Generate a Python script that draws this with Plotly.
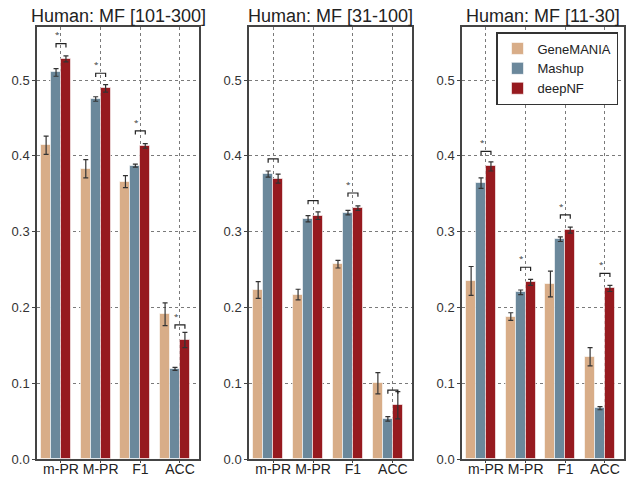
import plotly.graph_objects as go

metrics = ["m-PR", "M-PR", "F1", "ACC"]
methods = ["GeneMANIA", "Mashup", "deepNF"]
colors = ["#D8AD88", "#6B889B", "#961A1F"]
titles = ["Human: MF [101-300]", "Human: MF [31-100]", "Human: MF [11-30]"]

# panel 1: MF [101-300]
p1_means = {
    "GeneMANIA": [0.414, 0.383, 0.366, 0.191],
    "Mashup":    [0.510, 0.475, 0.387, 0.119],
    "deepNF":    [0.528, 0.489, 0.413, 0.157],
}
p1_errs = {
    "GeneMANIA": [0.012, 0.012, 0.008, 0.015],
    "Mashup":    [0.005, 0.003, 0.002, 0.002],
    "deepNF":    [0.004, 0.005, 0.003, 0.010],
}
p1_star = [True, True, True, True]

# panel 2: MF [31-100]
p2_means = {
    "GeneMANIA": [0.223, 0.217, 0.257, 0.100],
    "Mashup":    [0.376, 0.317, 0.325, 0.053],
    "deepNF":    [0.370, 0.321, 0.331, 0.071],
}
p2_errs = {
    "GeneMANIA": [0.011, 0.007, 0.005, 0.014],
    "Mashup":    [0.004, 0.004, 0.003, 0.003],
    "deepNF":    [0.006, 0.005, 0.003, 0.018],
}
p2_star = [False, False, True, False]

# panel 3: MF [11-30]
p3_means = {
    "GeneMANIA": [0.235, 0.188, 0.231, 0.135],
    "Mashup":    [0.364, 0.220, 0.290, 0.067],
    "deepNF":    [0.386, 0.233, 0.302, 0.225],
}
p3_errs = {
    "GeneMANIA": [0.019, 0.005, 0.017, 0.012],
    "Mashup":    [0.007, 0.003, 0.003, 0.002],
    "deepNF":    [0.006, 0.004, 0.004, 0.004],
}
p3_star = [True, True, True, True]

yticks = [0.0, 0.1, 0.2, 0.3, 0.4, 0.5]

panels = [(p1_means, p1_errs, p1_star), (p2_means, p2_errs, p2_star), (p3_means, p3_errs, p3_star)]

W, H = 628, 478
x_px = [(37, 199), (249, 412), (462, 624)]
y_px = (27, 459)
ydom = [(H - y_px[1]) / H, (H - y_px[0]) / H]

fig = go.Figure()
bar_w = 0.25
offsets = [-0.5, -0.25, 0.0]
xs = list(range(len(metrics)))
shapes = []
annotations = []

for p, (means, errs, stars) in enumerate(panels):
    ax = "" if p == 0 else str(p + 1)
    for m, name in enumerate(methods):
        fig.add_trace(go.Bar(
            x=xs, y=means[name], width=bar_w, offset=offsets[m],
            name=name, showlegend=(p == 2),
            marker=dict(color=colors[m], line=dict(color="rgba(255,255,255,0.6)", width=1)),
            error_y=dict(type="data", array=errs[name], color="#333333", thickness=1.2, width=2.5),
            xaxis="x" + ax, yaxis="y" + ax,
        ))
    # significance brackets between Mashup and deepNF
    for i in xs:
        top = max(means["Mashup"][i], means["deepNF"][i]) + 0.02
        xa = i + offsets[1] + bar_w / 2
        xb = i + offsets[2] + bar_w / 2
        shapes.append(dict(
            type="path", xref="x" + ax, yref="y" + ax,
            path=f"M {xa},{top-0.005} L {xa},{top} L {xb},{top} L {xb},{top-0.005}",
            line=dict(color="#222222", width=1.2),
        ))
        if stars[i]:
            annotations.append(dict(
                x=(xa + xb) / 2 - 0.1, y=top + 0.003, xref="x" + ax, yref="y" + ax,
                text="*", showarrow=False, font=dict(size=8, color="#333333"),
                xanchor="center", yanchor="bottom",
            ))
    x0, x1 = x_px[p]
    fig.update_layout(**{
        "xaxis" + ax: dict(
            domain=[x0 / W, x1 / W], range=[-0.605, 3.48],
            tickvals=xs, ticktext=metrics, anchor="y" + ax, automargin=False,
            tickangle=0, ticklabelstandoff=-6,
            showgrid=True, gridcolor="#7a7a7a", griddash="dot", gridwidth=1,
            showline=True, linecolor="#444444", linewidth=1.5, mirror=True,
            ticks="outside", ticklen=2, tickcolor="#444444",
            tickfont=dict(family="Liberation Sans, Arial", size=14, color="#222222"),
            zeroline=False,
        ),
        "yaxis" + ax: dict(
            domain=ydom, range=[0, 0.57], anchor="x" + ax, automargin=False,
            tickvals=yticks, ticktext=[f"{v:.1f}" for v in yticks],
            showgrid=True, gridcolor="#7a7a7a", griddash="dot", gridwidth=1,
            showline=True, linecolor="#444444", linewidth=1.5, mirror=True,
            ticks="outside", ticklen=3, tickcolor="#444444",
            tickfont=dict(family="Liberation Sans, Arial", size=13, color="#333333"),
            zeroline=False,
        ),
    })
    annotations.append(dict(
        x=(x0 + x1) / 2 / W, y=(H - 16) / H, xref="paper", yref="paper",
        text=titles[p], showarrow=False, xanchor="center", yanchor="middle",
        font=dict(family="Liberation Sans, Arial", size=18, color="#222222"),
    ))

fig.update_layout(
    width=W, height=H, margin=dict(l=0, r=0, t=0, b=0),
    paper_bgcolor="white", plot_bgcolor="white",
    barmode="overlay", bargap=0,
    shapes=shapes, annotations=annotations,
    legend=dict(
        x=618 / W, y=(H - 32) / H, xanchor="right", yanchor="top",
        bgcolor="white", bordercolor="#333333", borderwidth=1.5,
        font=dict(family="Liberation Sans, Arial", size=13, color="#222222"),
        itemwidth=30, tracegroupgap=0,
    ),
    showlegend=True,
)

fig.write_html("out.html")
